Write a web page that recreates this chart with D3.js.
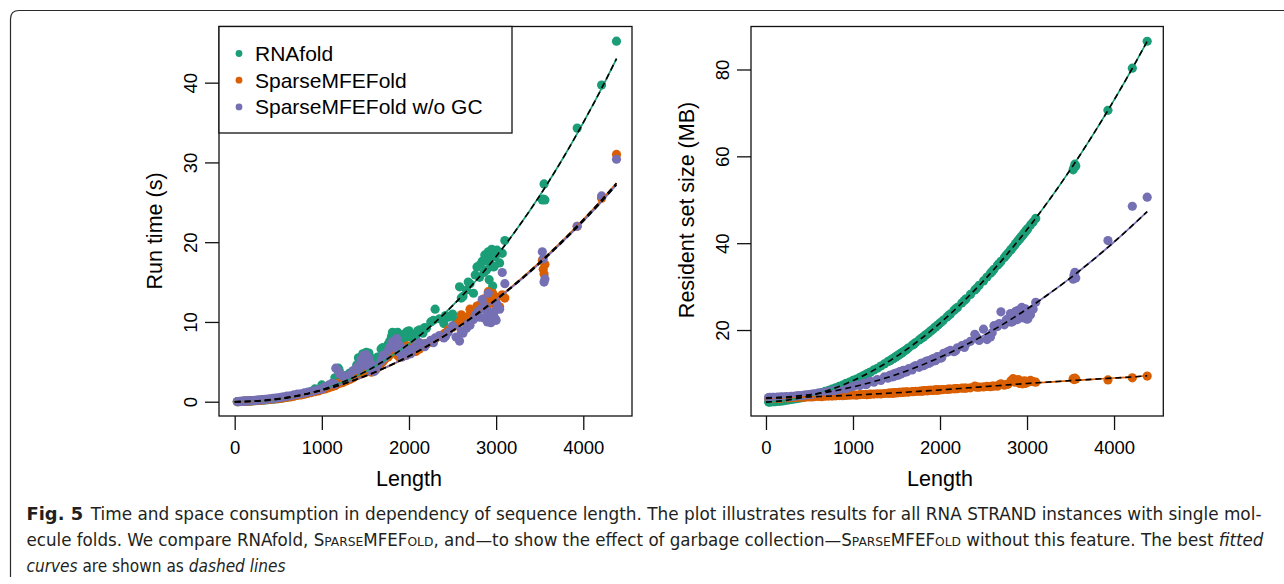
<!DOCTYPE html>
<html>
<head>
<meta charset="utf-8">
<script src="https://cdn.jsdelivr.net/npm/d3@7"></script>
<style>
  html, body { margin: 0; padding: 0; background: #fff; }
  svg { display: block; }
</style>
</head>
<body>
<div class="vis-fig5"></div>
<script>
// sequence lengths of the instances (shared by all three tools)
const lengths = [30,45,60,75,90,105,120,140,160,180,200,230,260,290,320,350,380,410,440,470,500,
  530,560,600,640,680,720,760,800,840,880,920,960,1000,
  1040,1080,1120,1160,1200,1240,1280,1320,1360,1400,1430,1460,1490,
  1510,1530,1550,1570,1600,1640,1680,1720,1760,1800,1830,1860,1890,1920,1950,1980,2000,
  2040,2080,2120,2160,2200,2250,2300,2350,2400,2450,2500,
  2540,2580,2620,2660,2700,2740,2780,2810,2840,2870,2890,2910,2930,2950,2970,2990,3010,3040,3070,3100,
  3530,3540,3550,3560,3930,4210,4381,
  1150,1190,1420,1450,1470,1480,1500,1520,1540,1560,1580,1620,1700,1780,1810,1840,1870,1900,1940,1970,
  2020,2100,2180,2280,2420,2600,2680,2760,2820,2860,2900,2920,2940,2960,2980,3000];

// run time (s)
const rnafoldTime = [.01,.02,.02,.03,.04,.05,.06,.07,.08,.09,.1,.12,.15,.17,.2,.23,.25,.28,.32,.34,.38,
  .45,.5,.55,.65,.75,.85,.9,1.0,1.1,1.3,1.6,1.5,2.1,
  1.8,2.0,2.3,2.6,3.9,2.9,3.3,3.6,3.8,4.6,5.1,5.6,6.0,
  6.2,5.4,4.7,4.3,4.4,5.6,6.6,6.0,7.2,8.2,8.6,8.4,7.8,7.4,8.5,8.8,8.9,
  8.0,8.3,9.0,8.6,9.2,10.0,11.6,10.4,9.8,10.6,11.0,
  10.2,14.4,13.2,14.0,14.8,13.6,16.9,15.6,17.6,18.4,16.5,18.8,17.9,19.1,16.9,18.2,19.0,17.4,18.6,20.2,
  25.3,25.4,27.3,25.3,34.3,39.7,45.2,
  3.0,4.2,5.5,4.8,6.0,5.2,5.8,5.0,6.1,5.5,4.9,5.0,6.8,7.6,8.7,8.0,8.7,8.3,7.9,8.1,
  8.5,8.9,9.3,10.2,10.8,13.0,15.0,15.9,17.2,16.2,17.6,15.3,18.3,14.5,17.0,18.7];
const sparseTime = [.01,.02,.03,.03,.05,.06,.07,.08,.09,.1,.11,.13,.16,.18,.21,.24,.27,.3,.34,.37,.4,
  .42,.47,.55,.6,.7,.8,.85,.95,1.05,1.15,1.25,1.35,1.5,
  1.6,1.75,1.9,2.1,2.3,2.4,2.6,2.8,3.0,3.3,3.4,3.6,3.9,
  4.1,4.4,3.8,3.7,3.9,4.3,4.8,5.3,5.6,6.1,6.5,6.0,5.6,5.9,6.8,7.0,6.7,
  6.4,6.3,6.6,7.0,7.2,7.5,7.9,8.2,8.5,9.0,9.3,
  9.6,10.0,10.2,10.5,11.6,11.0,12.0,11.7,12.4,11.9,12.5,13.8,12.9,13.3,12.6,12.2,13.1,11.9,13.4,13.0,
  17.7,16.6,16.0,17.2,22.0,25.5,31.0,
  2.0,2.3,3.4,3.9,4.2,3.6,4.5,3.9,4.7,4.0,3.8,4.1,5.0,5.9,6.3,6.6,5.8,6.2,6.4,6.0,
  6.9,6.8,7.3,7.6,8.6,10.9,10.7,11.4,12.2,12.9,12.1,13.0,12.4,13.6,12.8,12.3];
const sparseNoGcTime = [.02,.03,.04,.05,.06,.07,.08,.09,.11,.12,.14,.16,.19,.22,.26,.3,.33,.37,.41,.45,.5,
  .55,.6,.7,.75,.85,.95,1.0,1.1,1.2,1.25,1.4,1.5,1.6,
  1.9,2.1,2.3,4.2,3.5,3.2,3.0,3.4,3.9,4.3,4.6,5.0,5.6,
  5.9,5.2,4.4,3.9,3.8,4.4,5.1,5.5,6.4,7.2,7.6,7.9,6.2,5.6,6.0,6.6,6.3,
  6.6,7.0,7.4,7.1,7.3,7.7,8.0,8.3,8.0,8.7,9.5,
  8.1,7.6,8.6,9.2,9.6,10.3,11.2,10.6,12.8,12.0,11.5,13.6,10.8,10.1,11.0,10.4,12.2,11.6,16.2,14.8,
  18.8,17.9,15.0,15.4,22.0,25.8,30.4,
  2.2,3.8,4.0,5.3,4.5,5.8,5.0,4.6,5.4,4.8,4.2,4.0,5.8,6.8,7.5,6.8,7.4,7.0,6.5,5.8,
  6.0,7.2,6.9,7.4,8.2,8.9,9.8,10.8,11.6,10.5,10.0,11.2,9.9,10.6,11.3,10.2];

// resident set size (MB)
const rnafoldMem = [3.4,3.4,3.5,3.5,3.5,3.5,3.6,3.6,3.6,3.7,3.7,3.8,3.9,4.0,4.1,4.2,4.3,4.4,4.6,4.7,4.8,
  5.0,5.2,5.4,5.6,5.9,6.1,6.4,6.7,7.0,7.3,7.7,8.0,8.4,
  8.7,9.1,9.5,9.9,10.3,10.8,11.2,11.7,12.2,12.7,13.0,13.4,13.8,
  14.1,14.3,14.6,14.9,15.3,15.9,16.5,17.1,17.7,18.3,18.8,19.2,19.7,20.2,20.7,21.2,21.6,
  22.3,23.0,23.7,24.5,25.2,26.2,27.2,28.2,29.2,30.3,31.3,
  32.2,33.1,34.0,34.9,35.8,36.7,37.7,38.4,39.1,39.9,40.4,40.9,41.4,41.9,42.4,42.9,43.4,44.2,44.9,45.7,
  56.9,57.4,58.2,57.8,70.6,80.3,86.5,
  9.8,10.2,12.9,13.3,13.5,13.7,13.9,14.2,14.5,14.7,15.0,15.6,16.7,18.0,18.4,18.9,19.4,19.9,20.6,21.1,
  21.9,23.4,24.9,26.8,29.6,33.5,35.3,37.2,38.6,39.6,40.6,41.1,41.6,42.1,42.6,43.1];
const sparseMem = [4.25,4.32,4.22,4.3,4.35,4.28,4.33,4.38,4.3,4.36,4.4,4.42,4.38,4.45,4.5,4.46,4.52,4.55,4.5,4.6,4.62,
  4.6,4.68,4.7,4.66,4.75,4.8,4.78,4.85,4.9,4.86,4.95,4.98,5.05,
  5.0,5.1,5.15,5.1,5.22,5.25,5.3,5.28,5.38,5.42,5.5,5.45,5.58,
  5.55,5.62,5.6,5.66,5.7,5.72,5.8,5.85,5.9,5.95,6.05,6.0,6.1,6.12,6.2,6.15,6.25,
  6.3,6.35,6.4,6.45,6.5,6.6,6.62,6.7,7.1,6.85,6.9,
  7.0,6.95,7.1,7.05,7.6,7.3,7.5,8.1,8.8,8.5,8.2,7.8,7.9,7.6,8.3,7.9,8.0,8.4,8.1,8.0,
  8.8,8.6,8.9,8.7,8.5,9.0,9.4,
  5.15,5.2,5.45,5.5,5.52,5.55,5.6,5.58,5.65,5.62,5.7,5.75,5.82,5.92,6.0,6.02,6.08,6.1,6.15,6.2,
  6.25,6.38,6.5,6.62,6.85,7.1,7.4,7.45,8.4,8.0,8.6,7.7,8.0,7.8,7.7,8.2];
const sparseNoGcMem = [4.45,4.5,4.38,4.48,4.52,4.42,4.5,4.55,4.48,4.6,4.58,4.64,4.6,4.74,4.7,4.84,4.88,4.86,5.02,5.08,5.15,
  5.25,5.3,5.45,5.55,5.7,5.82,5.95,6.15,6.3,6.5,6.45,6.85,7.0,
  7.3,7.2,7.7,7.6,8.2,8.0,8.6,8.4,9.2,8.9,9.6,9.3,10.0,
  9.7,10.3,9.9,10.6,10.3,11.1,10.8,11.8,11.4,12.4,12.0,12.9,12.5,13.4,13.0,13.8,13.5,
  14.6,14.9,15.3,15.0,15.9,16.4,16.8,17.4,19.0,17.6,20.2,
  17.8,18.4,21.0,20.8,24.2,21.2,22.6,23.8,22.0,24.3,22.4,23.0,24.6,22.8,23.6,24.1,22.6,23.5,24.8,26.4,
  31.7,32.6,33.3,32.0,40.6,48.5,50.6,
  7.4,8.1,9.5,9.2,9.9,9.4,10.1,9.6,10.4,10.0,10.7,10.4,11.6,12.3,11.8,12.8,12.3,13.2,12.9,13.9,
  13.6,15.1,15.2,16.0,18.4,19.4,21.5,22.3,21.8,23.6,24.6,22.9,25.2,23.4,24.9,22.5];

// fitted curves, read at these lengths
const fitLengths = [0,250,500,750,1000,1250,1500,1750,2000,2250,2500,2750,3000,3250,3500,3750,4000,4250,4381];
const rnafoldTimeFit = [0,.06,.31,.78,1.5,2.5,3.77,5.36,7.25,9.47,12.04,14.94,18.21,21.83,25.83,30.21,34.98,40.13,43.0];
const sparseTimeFit = [0,.09,.36,.8,1.43,2.23,3.21,4.37,5.71,7.23,8.92,10.8,12.85,15.08,17.49,20.08,22.84,25.79,27.4];
const sparseNoGcTimeFit = [0,.1,.38,.83,1.46,2.26,3.24,4.39,5.72,7.22,8.89,10.74,12.77,14.97,17.35,19.91,22.64,25.56,27.2];
const rnafoldMemFit = [3.4,3.86,4.84,6.33,8.35,10.88,13.93,17.5,21.59,26.2,31.32,36.96,43.13,49.8,57.0,64.72,72.95,81.71,86.5];
const sparseMemFit = [4.26,4.43,4.6,4.8,5.0,5.27,5.55,5.87,6.2,6.57,6.95,7.32,7.7,8.02,8.35,8.65,8.95,9.24,9.47];
const sparseNoGcMemFit = [4.4,4.62,5.11,5.87,6.9,8.2,9.76,11.6,13.71,16.09,18.73,21.65,24.83,28.29,32.01,36.01,40.27,44.81,47.25];

const toolNames = ['RNAfold', 'SparseMFEFold', 'SparseMFEFold w/o GC'];
const toolColors = ['#1b9e77', '#d95f02', '#7570b3'];
const xTicks = [0, 1000, 2000, 3000, 4000];
const timeTicks = [0, 10, 20, 30, 40];
const memTicks = [20, 40, 60, 80];

const FONT = "'Liberation Sans', Arial, Helvetica, sans-serif";

const svg = d3.select('.vis-fig5')
    .append('svg')
    .attr('width', 1284)
    .attr('height', 584);

// outer figure frame (rounded top-left corner)
svg.append('path')
    .attr('d', 'M1284,10.5 H19 Q10.5,10.5 10.5,19 V577')
    .attr('fill', 'none')
    .attr('stroke', '#2a2a2a')
    .attr('stroke-width', 1.2);

const drawPanel = (props) => {
    const g = svg.append('g');
    const x = d3.scaleLinear().domain(props.xDomain).range([props.left, props.right]);
    const y = d3.scaleLinear().domain(props.yDomain).range([props.bottom, props.top]);

    // points
    props.series.forEach((s, k) => {
        g.append('g')
            .selectAll('circle')
            .data(lengths.map((d, i) => [d, s.values[i]]))
            .enter()
            .append('circle')
            .attr('cx', d => x(d[0]))
            .attr('cy', d => y(d[1]))
            .attr('r', 4.6)
            .attr('fill', toolColors[k]);
    });

    const line = (vals) => d3.line()
        .x((d, i) => x(fitLengths[i]))
        .y(d => y(d))
        .curve(d3.curveMonotoneX)(vals);

    // coloured fits, then dashed black fits on top
    props.series.forEach((s, k) => {
        g.append('path')
            .attr('d', line(s.fit))
            .attr('fill', 'none')
            .attr('stroke', toolColors[k])
            .attr('stroke-width', 1.7);
    });
    props.series.forEach((s) => {
        g.append('path')
            .attr('d', line(s.fit))
            .attr('fill', 'none')
            .attr('stroke', '#000')
            .attr('stroke-width', 1.6)
            .attr('stroke-dasharray', '6,4');
    });

    // box
    g.append('rect')
        .attr('x', props.left)
        .attr('y', props.top)
        .attr('width', props.right - props.left)
        .attr('height', props.bottom - props.top)
        .attr('fill', 'none')
        .attr('stroke', '#111')
        .attr('stroke-width', 1.3);

    // x axis
    const xAxis = g.append('g')
        .attr('transform', 'translate(0,' + props.bottom + ')')
        .call(d3.axisBottom(x).tickValues(xTicks).tickFormat(d3.format('d')).tickSize(14).tickSizeOuter(0));
    xAxis.select('.domain').remove();
    xAxis.selectAll('line').attr('stroke', '#111').attr('stroke-width', 1.3);
    xAxis.selectAll('text')
        .attr('y', 38)
        .attr('dy', 0)
        .attr('fill', '#000')
        .style('font-family', FONT)
        .style('font-size', '18.5px');

    // y axis
    const yAxis = g.append('g')
        .attr('transform', 'translate(' + props.left + ',0)')
        .call(d3.axisLeft(y).tickValues(props.yTicks).tickFormat(d3.format('d')).tickSize(14).tickSizeOuter(0));
    yAxis.select('.domain').remove();
    yAxis.selectAll('line').attr('stroke', '#111').attr('stroke-width', 1.3);
    yAxis.selectAll('text')
        .attr('x', 0)
        .attr('dy', 0)
        .attr('transform', 'translate(-22,0) rotate(-90)')
        .attr('text-anchor', 'middle')
        .attr('fill', '#000')
        .style('font-family', FONT)
        .style('font-size', '18.5px');

    // titles
    g.append('text')
        .attr('x', props.xTitleX)
        .attr('y', 486)
        .attr('text-anchor', 'middle')
        .style('font-family', FONT)
        .style('font-size', '21.5px')
        .text('Length');
    g.append('text')
        .attr('transform', 'translate(' + props.yTitle[0] + ',' + props.yTitle[1] + ') rotate(-90)')
        .attr('text-anchor', 'middle')
        .style('font-family', FONT)
        .style('font-size', '21.5px')
        .text(props.yLabel);

    return g;
};

const left = drawPanel({
    left: 219, right: 632, top: 26.5, bottom: 416,
    xDomain: [-180, 4559], yDomain: [-1.79, 47.04],
    yTicks: timeTicks, yLabel: 'Run time (s)',
    xTitleX: 409, yTitle: [162, 231],
    series: [
        { values: rnafoldTime, fit: rnafoldTimeFit },
        { values: sparseTime, fit: sparseTimeFit },
        { values: sparseNoGcTime, fit: sparseNoGcTimeFit }
    ]
});

drawPanel({
    left: 751, right: 1163.3, top: 26.5, bottom: 416,
    xDomain: [-172, 4566], yDomain: [0.2, 89.9],
    yTicks: memTicks, yLabel: 'Resident set size (MB)',
    xTitleX: 940, yTitle: [694, 210],
    series: [
        { values: rnafoldMem, fit: rnafoldMemFit },
        { values: sparseMem, fit: sparseMemFit },
        { values: sparseNoGcMem, fit: sparseNoGcMemFit }
    ]
});

// legend (top-left of the run time panel)
const legend = left.append('g');
legend.append('rect')
    .attr('x', 219).attr('y', 26.5)
    .attr('width', 293).attr('height', 106.5)
    .attr('fill', '#fff')
    .attr('stroke', '#111')
    .attr('stroke-width', 1.3);
toolNames.forEach((name, i) => {
    legend.append('circle')
        .attr('cx', 239).attr('cy', 53.5 + i * 26.7)
        .attr('r', 3.4)
        .attr('fill', toolColors[i]);
    legend.append('text')
        .attr('x', 255).attr('y', 61 + i * 26.7)
        .style('font-family', FONT)
        .style('font-size', '21px')
        .text(name);
});

// caption
const CAP_FONT = "'Liberation Sans Narrow', 'DejaVu Sans Condensed', 'Open Sans', sans-serif";
const captionLines = [
    { y: 519.5, len: 1235, parts: [
        ['Fig. 5', 'b'],
        ['Time and space consumption in dependency of sequence length. The plot illustrates results for all RNA STRAND instances with single mol-', 'n', 7]
    ]},
    { y: 545.5, len: 1237, parts: [
        ['ecule folds. We compare RNAfold, ', 'n'],
        ['S', 'n'], ['PARSE', 'sc'], ['MFEF', 'n'], ['OLD', 'sc'],
        [', and\u2014to show the effect of garbage collection\u2014', 'n'],
        ['S', 'n'], ['PARSE', 'sc'], ['MFEF', 'n'], ['OLD', 'sc'],
        [' without this feature. The best ', 'n'],
        ['fitted', 'i']
    ]},
    { y: 571.5, len: 259, parts: [
        ['curves', 'i'], [' are shown as ', 'n'], ['dashed lines', 'i']
    ]}
];
captionLines.forEach(l => {
    const t = svg.append('text')
        .attr('x', 26.5)
        .attr('y', l.y)
        .attr('textLength', l.len)
        .attr('lengthAdjust', 'spacingAndGlyphs')
        .attr('fill', '#231f20')
        .style('font-family', CAP_FONT)
        .style('font-stretch', 'condensed')
        .style('font-size', '17px')
        .style('white-space', 'pre');
    l.parts.forEach(p => {
        const ts = t.append('tspan').text(p[0]);
        if (p[1] === 'b') ts.style('font-weight', 'bold').style('font-size', '18px');
        if (p[1] === 'i') ts.style('font-style', 'italic');
        if (p[1] === 'sc') ts.style('font-size', '12.5px');
        if (p[2]) ts.attr('dx', p[2]);
    });
});
</script>
</body>
</html>
